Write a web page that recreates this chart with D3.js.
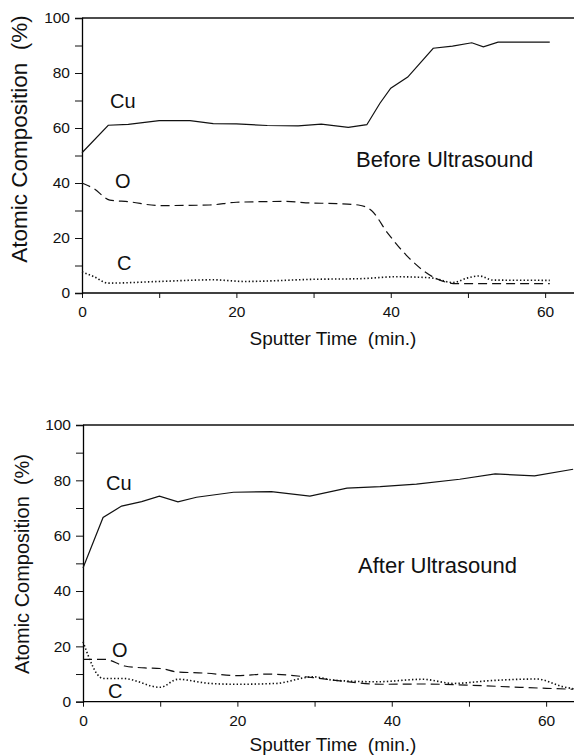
<!DOCTYPE html>
<html lang="en">
<head>
    <meta charset="UTF-8">
    <title>Atomic Composition vs Sputter Time</title>
    <script src="https://d3js.org/d3.v7.min.js"></script>
    <style>
        body { margin: 0; background: #fff; }
        svg text { font-family: "Liberation Sans", Arial, Helvetica, sans-serif; fill: #111; }
    </style>
</head>
<body>
    <svg id="chart" width="574" height="755"></svg>
    <script>
        // ---- data (sputter time in min, composition in %) ----
        // Before ultrasound
        var beforeCuTime = [0, 3.4, 6, 10, 14, 17, 20, 24, 28, 31, 34.5, 36.9, 38.6, 40, 42.2, 45.5, 48, 50.5, 52, 53.9, 60.6];
        var beforeCu     = [51, 61, 61.3, 62.7, 62.7, 61.6, 61.5, 60.9, 60.8, 61.4, 60.2, 61.2, 69, 74.5, 78.5, 89, 89.8, 91, 89.5, 91.2, 91.2];
        var beforeOTime  = [0, 1.5, 3.6, 6, 10, 16.5, 20, 26.5, 29, 33, 35.8, 37.5, 39.6, 42, 45.5, 48.5, 52, 60.6];
        var beforeO      = [40, 38, 33.8, 33.2, 31.8, 32, 33, 33.3, 32.8, 32.5, 32, 30, 21.8, 13.8, 5.8, 3.4, 3.4, 3.4];
        var beforeCTime  = [0, 1.5, 3.4, 10, 17, 21, 30.4, 36, 40.7, 43, 45.5, 48, 50, 51.5, 53.2, 60.6];
        var beforeC      = [7.7, 6, 3.6, 4.2, 4.8, 4.2, 5, 5.2, 5.9, 5.8, 5.4, 3.8, 5.5, 6.2, 4.7, 4.6];

        // After ultrasound
        var afterCuTime = [0, 2.6, 5, 7.6, 9.9, 12.3, 14.7, 19.5, 24.4, 29.4, 34.2, 38.5, 43.2, 48.8, 53.4, 58.5, 63.5];
        var afterCu     = [48.3, 66.6, 70.7, 72.3, 74.3, 72.2, 73.9, 75.7, 75.9, 74.3, 77.2, 77.7, 78.6, 80.4, 82.3, 81.6, 84];
        var afterOTime  = [0, 2.8, 5.4, 8, 10, 12.1, 16, 19.9, 23.8, 29.8, 33, 38.5, 44, 49.7, 56.6, 63.5];
        var afterO      = [15.3, 15.3, 12.9, 12.2, 12, 10.8, 10.3, 9.4, 10, 8.7, 7.6, 6.3, 6.4, 6, 5.2, 4.5];
        var afterCTime  = [0, 2.6, 5.2, 10, 12.3, 16.4, 19.9, 25, 29.8, 32.4, 38, 44, 48, 52.7, 58.8, 62.2, 64];
        var afterC      = [21.7, 8.4, 8.4, 5.2, 8.1, 6.6, 6.3, 6.6, 9, 7.8, 7.2, 8.1, 6.6, 7.6, 8.2, 5.4, 4.5];

        var xTicks = [0, 20, 40, 60];
        var xMinor = [10, 30, 50];
        var yTicks = [0, 20, 40, 60, 80, 100];
        var yMinor = [10, 30, 50, 70, 90];

        var svg = d3.select("#chart");

        function zip(xs, ys) {
            return xs.map(function (x, i) { return [x, ys[i]]; });
        }

        function drawPanel(p) {
            var x = d3.scaleLinear().domain([0, 64]).range([p.left, p.left + 494]);
            var y = d3.scaleLinear().domain([0, 100]).range([p.bottom, p.top]);
            var g = svg.append("g");

            // top frame line
            g.append("line")
                .attr("x1", x(0)).attr("x2", 574)
                .attr("y1", y(100)).attr("y2", y(100))
                .attr("stroke", "#111").attr("stroke-width", 1.3);

            // x axis
            var xAxis = g.append("g")
                .attr("transform", "translate(0," + y(0) + ")")
                .call(d3.axisBottom(x).tickValues(xTicks).tickSize(5).tickPadding(8).tickFormat(d3.format("d")));
            xAxis.select(".domain").attr("d", "M" + x(0) + ",0H574").attr("stroke-width", 1.3);
            g.append("g")
                .attr("transform", "translate(0," + y(0) + ")")
                .call(d3.axisBottom(x).tickValues(xMinor).tickSize(5).tickFormat(""))
                .select(".domain").remove();

            // y axis
            g.append("g")
                .attr("transform", "translate(" + x(0) + ",0)")
                .call(d3.axisLeft(y).tickValues(yTicks).tickSize(7).tickPadding(5))
                .select(".domain").attr("stroke-width", 1.3);
            g.append("g")
                .attr("transform", "translate(" + x(0) + ",0)")
                .call(d3.axisLeft(y).tickValues(yMinor).tickSize(7).tickFormat(""))
                .select(".domain").remove();

            g.selectAll(".tick text").attr("font-size", 15.5).attr("fill", "#111")
                .attr("font-family", "Liberation Sans, Arial, sans-serif");
            g.selectAll(".tick line").attr("stroke", "#111");

            // series
            var line = d3.line().x(function (d) { return x(d[0]); }).y(function (d) { return y(d[1]); });
            var smooth = d3.line().curve(d3.curveMonotoneX)
                .x(function (d) { return x(d[0]); }).y(function (d) { return y(d[1]); });

            g.append("path").datum(zip(p.cuT, p.cu))
                .attr("d", line).attr("fill", "none").attr("stroke", "#111").attr("stroke-width", 1.2);
            g.append("path").datum(zip(p.oT, p.o))
                .attr("d", smooth).attr("fill", "none").attr("stroke", "#111").attr("stroke-width", 1.2)
                .attr("stroke-dasharray", "9,5");
            g.append("path").datum(zip(p.cT, p.c))
                .attr("d", smooth).attr("fill", "none").attr("stroke", "#111").attr("stroke-width", 1.6)
                .attr("stroke-dasharray", "1.4,2.2");

            // labels
            p.labels.forEach(function (l) {
                g.append("text").attr("x", l.x).attr("y", l.y).attr("font-size", l.size).text(l.text);
            });

            g.append("text")
                .attr("transform", "translate(" + p.yLabelX + "," + p.yLabelY + ") rotate(-90)")
                .attr("text-anchor", "middle")
                .attr("font-size", p.yLabelSize)
                .attr("xml:space", "preserve")
                .text("Atomic Composition  (%)");

            g.append("text")
                .attr("x", 333).attr("y", p.xLabelY)
                .attr("text-anchor", "middle")
                .attr("font-size", 19)
                .attr("xml:space", "preserve")
                .text("Sputter Time  (min.)");
        }

        drawPanel({
            left: 82, top: 18, bottom: 293,
            cuT: beforeCuTime, cu: beforeCu, oT: beforeOTime, o: beforeO, cT: beforeCTime, c: beforeC,
            labels: [
                { text: "Cu", x: 110, y: 108, size: 20 },
                { text: "O", x: 115, y: 188, size: 20 },
                { text: "C", x: 117, y: 270, size: 20 },
                { text: "Before Ultrasound", x: 356, y: 167, size: 22 }
            ],
            yLabelX: 27, yLabelY: 139, yLabelSize: 22.5, xLabelY: 345
        });

        drawPanel({
            left: 83, top: 425, bottom: 701.7,
            cuT: afterCuTime, cu: afterCu, oT: afterOTime, o: afterO, cT: afterCTime, c: afterC,
            labels: [
                { text: "Cu", x: 106, y: 490, size: 20 },
                { text: "O", x: 112, y: 657, size: 20 },
                { text: "C", x: 108, y: 698, size: 20 },
                { text: "After Ultrasound", x: 358, y: 573, size: 22 }
            ],
            yLabelX: 29, yLabelY: 564, yLabelSize: 20, xLabelY: 751
        });
    </script>
</body>
</html>
